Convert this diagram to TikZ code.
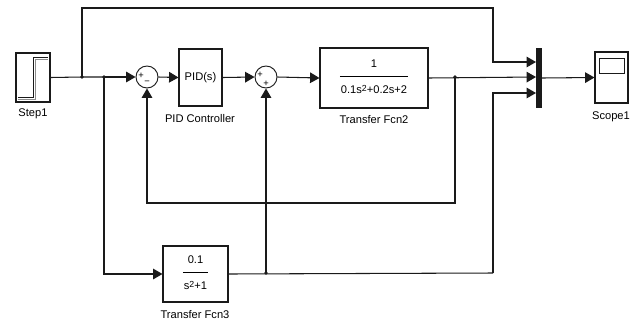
\documentclass[tikz,border=0pt]{standalone}
\usepackage{fontspec}
\setmainfont{Liberation Sans}
\usetikzlibrary{arrows.meta,positioning,calc}
\definecolor{simline}{HTML}{1A1A1A}
\definecolor{simshade}{HTML}{8C8C8C}
\newcommand{\tfn}[2]{\setlength{\tabcolsep}{1pt}\begin{tabular}{c}#1\\[4pt]\hline\rule{0pt}{15pt}#2\end{tabular}}
\newcommand{\sq}{\raisebox{0.45ex}{\fontsize{7.5}{8}\selectfont 2}}

\begin{document}
\begin{tikzpicture}[x=0.03cm, y=-0.03cm,
    blk/.style={draw=simline, line width=0.9pt, fill=white, inner sep=0pt, font=\fontsize{9.5}{11}\selectfont},
    sumblk/.style={draw=simline, circle, line width=0.8pt, minimum size=0.66cm, inner sep=0pt},
    sig/.style={draw=simline, line width=0.9pt, -{Triangle[length=8pt,width=9pt]}},
    wire/.style={draw=simline, line width=0.9pt},
    lbl/.style={font=\fontsize{9.5}{11}\selectfont, inner sep=0pt},
    sgn/.style={font=\fontsize{8}{8}\selectfont, inner sep=0pt}]
        \useasboundingbox (0,0) rectangle (640,326);

        % Blocks
        \node[blk, minimum width=1.02cm, minimum height=1.47cm] at (33,77.5) (step) {};
        \node[sumblk] at (147,77) (sum1) {};
        \node[blk, minimum width=1.29cm, minimum height=1.71cm] at (200.5,77.5) (pid) {PID(s)};
        \node[sumblk] at (266,77) (sum2) {};
        \node[blk, minimum width=3.24cm, minimum height=1.8cm] at (374,78) (fcn2) {\tfn{1}{0.1s\sq+0.2s+2}};
        \node[fill=simline, minimum width=0.18cm, minimum height=1.8cm, inner sep=0pt] at (539,78) (mux) {};
        \node[blk, minimum width=0.99cm, minimum height=1.53cm] at (611.5,77.5) (scope) {};
        \node[blk, minimum width=1.95cm, minimum height=1.68cm] at (195.5,274) (fcn3) {\tfn{0.1}{s\sq+1}};

        % Labels
        \node[lbl] at (33,114) (steplbl) {Step1};
        \node[lbl] at (200,119) (pidlbl) {PID Controller};
        \node[lbl] at (374,120) (fcn2lbl) {Transfer Fcn2};
        \node[lbl] at (611,117) (scopelbl) {Scope1};
        \node[lbl] at (195,315) (fcn3lbl) {Transfer Fcn3};

        % Signs of the sums
        \node[sgn] at (141,76) (s1a) {+};
        \node[sgn] at (147,83) (s1b) {\textminus};
        \node[sgn] at (260,75) (s2a) {+};
        \node[sgn] at (266,84) (s2b) {+};

        % Icons
        \draw[simshade, line width=0.8pt] (18,99) -- (35,99) -- (35,59) -- (48,59);
        \draw[simline, line width=0.8pt] (18,97) -- (33,97) -- (33,57) -- (48,57);
        \draw[simline, line width=0.8pt] (599,58) rectangle (624,73);

        % Branch points
        \coordinate (j1) at (82,77);
        \coordinate (j2) at (104,77);
        \coordinate (j3) at (455,77);
        \coordinate (j4) at (266,273);
        \coordinate (top) at (493,8);
        \coordinate (fb) at (455,203);
        \coordinate (c3) at (493,273);
        \coordinate (in1) at (536,62);
        \coordinate (in2) at (536,77);
        \coordinate (in3) at (536,93);

        % Signals
        \draw[wire] (step.east) -- (j1) -- (j2);
        \draw[sig] (j2) -- (sum1.west);
        \draw[sig] (j1) |- (top) |- (in1);
        \draw[sig] (j2) |- (fcn3.west);
        \draw[sig] (sum1.east) -- (pid.west);
        \draw[sig] (pid.east) -- (sum2.west);
        \draw[sig] (sum2.east) -- (fcn2.west);
        \draw[sig] (fcn2.east) -- (in2);
        \draw[sig] (j3) -- (fb) -| (sum1.south);
        \draw[wire] (fcn3.east) -- (c3);
        \draw[sig] (c3) |- (in3);
        \draw[sig] (j4) -- (sum2.south);
        \draw[sig] (mux.east) -- (scope.west);

        \foreach \j in {j1,j2,j3,j4} {
            \fill[simline] (\j) circle (1.6pt);
        }
    \end{tikzpicture}
\end{document}
